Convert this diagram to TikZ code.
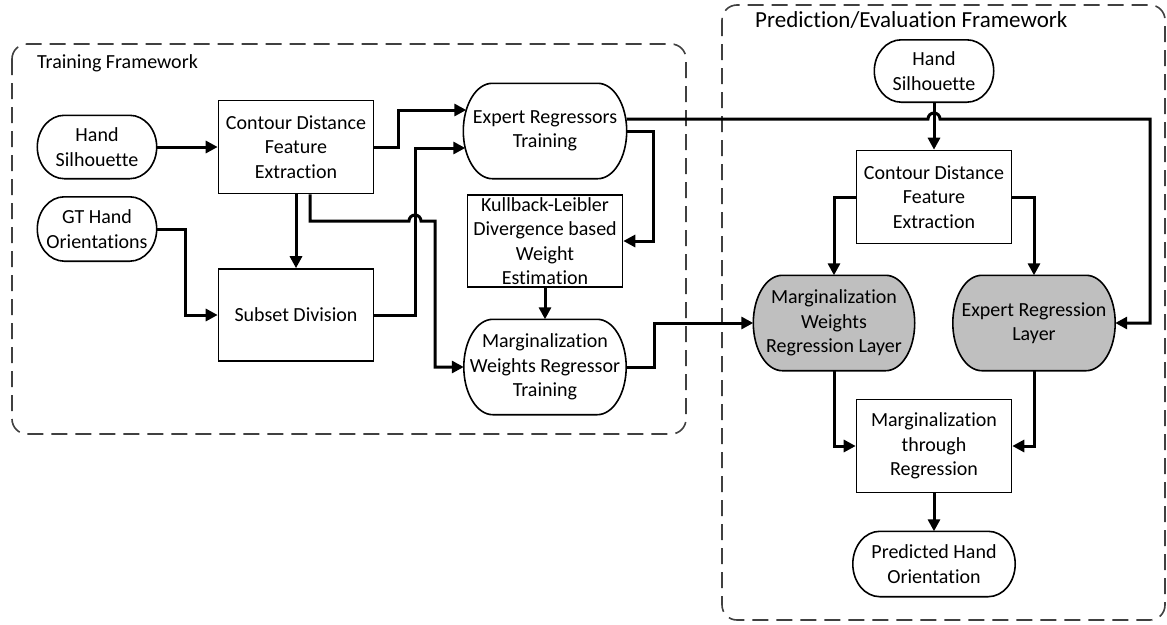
\documentclass[tikz,border=0pt]{standalone}
\usepackage{fontspec}
\setmainfont{Carlito}[Ligatures={NoCommon}]
\usetikzlibrary{arrows.meta,calc}
\pgfdeclarelayer{bg}
\pgfsetlayers{bg,main}
\newcommand\pilloutline[3][]{%
  \draw[nodeline,#1] let \p1=(#2.north west), \p2=(#2.south east) in
    (\x1+#3,\y1) -- (\x2-#3,\y1)
    arc[start angle=90,end angle=-90,x radius=#3,y radius={(\y1-\y2)/2}]
    -- (\x1+#3,\y2)
    arc[start angle=270,end angle=90,x radius=#3,y radius={(\y1-\y2)/2}] -- cycle;}
\begin{document}
\begin{tikzpicture}[x=1pt,y=-1pt,
  every node/.style={font=\fontsize{20}{24.5}\selectfont, align=center, inner sep=0pt},
  nodeline/.style={line width=1.6pt},
  box/.style={draw, nodeline, minimum width=155pt, minimum height=93pt},
  conn/.style={line width=3pt, -{Triangle[length=12pt,width=12pt]}},
  frame/.style={draw=black!75, line width=1.6pt, dash pattern=on 16pt off 8pt, rounded corners=15pt},
  title/.style={anchor=base west}
]
\useasboundingbox (0,0) rectangle (1167,624);
\draw[frame] (12,44) rectangle (686,434);
\draw[frame] (722,5) rectangle (1165,620);
\node[title] (tTrain) at (37,68) {Training Framework};
\node[title, font=\fontsize{23}{28}\selectfont] (tPred) at (755,27) {Prediction/Evaluation Framework};

% training nodes
\node[minimum width=119pt, minimum height=63pt] (HS1) at (97,147) {Hand\\Silhouette};
\node[minimum width=119pt, minimum height=64pt] (GT) at (97,229) {GT Hand\\Orientations};
\node[box] (CD1) at (296,147) {Contour Distance\\Feature\\Extraction};
\node[box, minimum height=92pt] (SD) at (296,315) {Subset Division};
\node[minimum width=163pt, minimum height=95pt] (ERT) at (545,131) {Expert Regressors\\Training};
\node[box, minimum height=92pt] (KL) at (545,241) {Kullback-Leibler\\Divergence based\\Weight\\Estimation};
\node[minimum width=162pt, minimum height=95pt] (MWT) at (545,367) {Marginalization\\Weights Regressor\\Training};

% prediction nodes
\node[minimum width=119pt, minimum height=62pt] (HS2) at (934,71) {Hand\\Silhouette};
\node[box] (CD2) at (934,197) {Contour Distance\\Feature\\Extraction};
\node[minimum width=161pt, minimum height=95pt] (MWL) at (834,323) {Marginalization\\Weights\\Regression Layer};
\node[minimum width=162pt, minimum height=95pt] (ERL) at (1034,323) {Expert Regression\\Layer};
\node[box] (MR) at (934,446) {Marginalization\\through\\Regression};
\node[minimum width=162pt, minimum height=65pt] (PHO) at (934,564) {Predicted Hand\\Orientation};

\begin{pgfonlayer}{bg}
\pilloutline{HS1}{27pt}
\pilloutline{GT}{27pt}
\pilloutline{ERT}{29pt}
\pilloutline{MWT}{29pt}
\pilloutline{HS2}{27pt}
\pilloutline[fill=black!25]{MWL}{29pt}
\pilloutline[fill=black!25]{ERL}{29pt}
\pilloutline{PHO}{27pt}
\end{pgfonlayer}

\coordinate (eIn1) at ($(ERT.west |- 0,110)+(3pt,0)$);
\coordinate (eIn2) at ($(ERT.west |- 0,148)+(2pt,0)$);

% training connectors
\draw[conn] (HS1.east) -- (CD1.west);
\draw[conn] (CD1.east) -- (CD1.east -| 398,0) |- (eIn1);
\draw[conn] (CD1.south) -- (SD.north);
\draw[conn] (CD1.south -| 310,0) |- (409,221) arc[start angle=180,end angle=360,radius=6] -- (435,221) |- (MWT.west);
\draw[conn] (GT.east) -- (GT.east -| 185,0) |- (SD.west);
\draw[conn] (SD.east) -- (SD.east -| 415,0) |- (eIn2);
\draw[conn] (ERT.east) -- (ERT.east -| 653,0) |- (KL.east);
\draw[conn] (KL.south) -- (MWT.north);
\draw[conn] (ERT.east |- 0,119) -- (928,119) arc[start angle=180,end angle=360,radius=6] -- (1150,119) |- (ERL.east);
\draw[conn] (MWT.east) -- (MWT.east -| 654,0) |- (MWL.west);

% prediction connectors
\draw[conn] (HS2.south) -- (CD2.north);
\draw[conn] (CD2.west) -| (MWL.north);
\draw[conn] (CD2.east) -| (ERL.north);
\draw[conn] (MWL.south) |- (MR.west);
\draw[conn] (ERL.south) |- (MR.east);
\draw[conn] (MR.south) -- (PHO.north);
\end{tikzpicture}
\end{document}
